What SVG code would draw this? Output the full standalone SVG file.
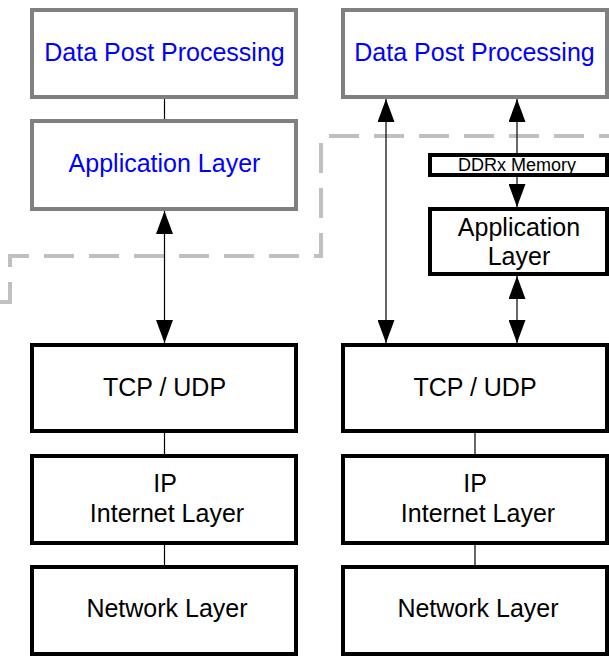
<svg xmlns="http://www.w3.org/2000/svg" width="609" height="656" viewBox="0 0 609 656">
<style>
.gbox{fill:#fff;stroke:#808080;stroke-width:4}
.bbox{fill:#fff;stroke:#000;stroke-width:4}
.t{font-family:"Liberation Sans",Arial,sans-serif;font-size:25px;text-anchor:middle;fill:#000}
.blue{fill:#0000ff}
.small{font-size:18px}
.c{stroke:#000;stroke-width:1.2;fill:none}
.dash{fill:none;stroke:#c0c0c0;stroke-width:4;stroke-dasharray:30 15;stroke-dashoffset:40}
</style>
<defs>
<marker id="ah" markerUnits="userSpaceOnUse" markerWidth="23" markerHeight="17" viewBox="0 0 23 17" refX="23" refY="8.5" orient="auto-start-reverse">
<path d="M0,0 L23,8.5 L0,17 z" fill="#000"/>
</marker>
</defs>
<path class="dash" d="M-5,302 H10 V256 H321 V136 H612"/>
<g id="connectors">
<line class="c" x1="164.5" y1="99" x2="164.5" y2="119"/>
<line class="c" x1="164.5" y1="211" x2="164.5" y2="343" marker-start="url(#ah)" marker-end="url(#ah)"/>
<line class="c" x1="164.5" y1="433" x2="164.5" y2="454"/>
<line class="c" x1="164.5" y1="545" x2="164.5" y2="565"/>
<line class="c" x1="386" y1="99" x2="386" y2="343" marker-start="url(#ah)" marker-end="url(#ah)"/>
<line class="c" x1="517" y1="99" x2="517" y2="153" marker-start="url(#ah)"/>
<line class="c" x1="517" y1="177" x2="517" y2="207" marker-end="url(#ah)"/>
<line class="c" x1="517" y1="276" x2="517" y2="343" marker-start="url(#ah)" marker-end="url(#ah)"/>
<line class="c" x1="475" y1="433" x2="475" y2="454"/>
<line class="c" x1="475" y1="545" x2="475" y2="565"/>
</g>
<g id="left-dpp"><rect class="gbox" x="32" y="10" width="264" height="87"/><text class="t blue" x="164.5" y="61">Data Post Processing</text></g>
<g id="left-app"><rect class="gbox" x="32" y="121" width="264" height="88"/><text class="t blue" x="164.5" y="172">Application Layer</text></g>
<g id="left-tcp"><rect class="bbox" x="32" y="345" width="264" height="86"/><text class="t" x="164.5" y="396">TCP / UDP</text></g>
<g id="left-ip"><rect class="bbox" x="32" y="456" width="264" height="87"/><text class="t" x="165" y="492">IP</text><text class="t" x="167" y="522">Internet Layer</text></g>
<g id="left-net"><rect class="bbox" x="32" y="567" width="264" height="87"/><text class="t" x="167" y="617">Network Layer</text></g>
<g id="right-dpp"><rect class="gbox" x="343" y="10" width="264" height="87"/><text class="t blue" x="474.5" y="61">Data Post Processing</text></g>
<g id="right-ddrx"><rect class="bbox" x="430" y="155" width="177" height="20"/><text class="t small" x="517" y="171">DDRx Memory</text></g>
<g id="right-app"><rect class="bbox" x="430" y="209" width="177" height="65"/><text class="t" x="519" y="236">Application</text><text class="t" x="519" y="265">Layer</text></g>
<g id="right-tcp"><rect class="bbox" x="343" y="345" width="264" height="86"/><text class="t" x="475" y="396">TCP / UDP</text></g>
<g id="right-ip"><rect class="bbox" x="343" y="456" width="264" height="87"/><text class="t" x="475" y="492">IP</text><text class="t" x="478" y="522">Internet Layer</text></g>
<g id="right-net"><rect class="bbox" x="343" y="567" width="264" height="87"/><text class="t" x="478" y="617">Network Layer</text></g>
</svg>
